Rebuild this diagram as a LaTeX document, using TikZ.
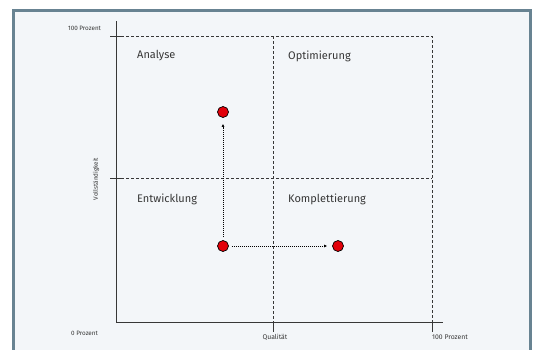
\documentclass[tikz,border=0pt]{standalone}
\usepackage{fontspec}
\setmainfont{Fira Sans}
\usetikzlibrary{
    arrows.meta,
    positioning
}
\definecolor{framegray}{RGB}{104,131,146}
\definecolor{paneblue}{RGB}{243,246,249}
\definecolor{axisgray}{RGB}{55,55,55}
\definecolor{dotred}{RGB}{226,0,10}
\tikzstyle{quadrant} = [
    anchor=west,
    inner sep=0pt,
    text=axisgray,
    font=\fontsize{11}{13}\selectfont
]
\tikzstyle{scalelabel} = [
    inner sep=0pt,
    text=axisgray,
    font=\fontsize{6.3}{7}\selectfont
]
\tikzstyle{point} = [
    circle,
    draw=black,
    fill=dotred,
    line width=0.7pt,
    minimum size=11pt,
    inner sep=0pt
]
\tikzstyle{grid} = [
    densely dashed,
    draw=axisgray,
    line width=0.4pt
]
\tikzstyle{axis} = [
    draw=axisgray,
    line width=0.9pt
]
\tikzstyle{move} = [
    -{Latex[length=3pt,width=3pt]},
    densely dotted,
    line width=1pt,
    draw=black
]
\begin{document}
\begin{tikzpicture}[x=1pt, y=-1pt]
        \useasboundingbox (0,0) rectangle (537,349);
        % Frame
        \draw[framegray, line width=3pt, fill=paneblue] (13.5,10.5) rectangle (530.5,360);

        % Corners of the matrix
        \coordinate (origin) at (116,322);
        \coordinate (ytop) at (116,21);
        \coordinate (xend) at (443,322);
        \coordinate (tl) at (116,36);
        \coordinate (tr) at (432,36);
        \coordinate (br) at (432,322);
        \coordinate (tm) at (273,36);
        \coordinate (bm) at (273,322);
        \coordinate (ml) at (116,178);
        \coordinate (mr) at (432,178);

        % Grid
        \draw[grid] (tl) -- (tr) -- (br);
        \draw[grid] (tm) -- (bm);
        \draw[grid] (ml) -- (mr);

        % Axes and ticks
        \draw[axis] (ytop) -- (origin) -- (xend);
        \draw[axis] ([xshift=-6pt]tl) -- ([xshift=8pt]tl);
        \draw[axis] ([xshift=-6pt]ml) -- ([xshift=8pt]ml);
        \draw[axis] ([yshift=-10pt]bm) -- (bm);
        \draw[axis] ([yshift=-10pt]br) -- (br);

        % Scale labels
        \node[scalelabel] (ymax) at (84.5,28) {100 Prozent};
        \node[scalelabel] (ymin) at (84.5,333) {0 Prozent};
        \node[scalelabel, font=\fontsize{6.8}{7}\selectfont] (xlabel) at (275,337) {Qualität};
        \node[scalelabel, font=\fontsize{6.8}{7}\selectfont] (xmax) at (450,337) {100 Prozent};
        \node[scalelabel, rotate=90] (ylabel) at (96,179) {Vollständigkeit};

        % Quadrants
        \node[quadrant] (analyse) at (137,56) {Analyse};
        \node[quadrant] (optim) at (288,56) {Optimierung};
        \node[quadrant] (entw) at (137,199) {Entwicklung};
        \node[quadrant] (kompl) at (288,199) {Komplettierung};

        % Points
        \node[point] (start) at (223,246) {};
        \node[point] (reach) at (223,112) {};
        \node[point] (target) at (338,246) {};

        % Arrows
        \draw[move, shorten <=3pt, shorten >=6pt] (start) -- (reach);
        \draw[move, shorten <=3pt, shorten >=5pt] (start) -- (target);
    \end{tikzpicture}
\end{document}
